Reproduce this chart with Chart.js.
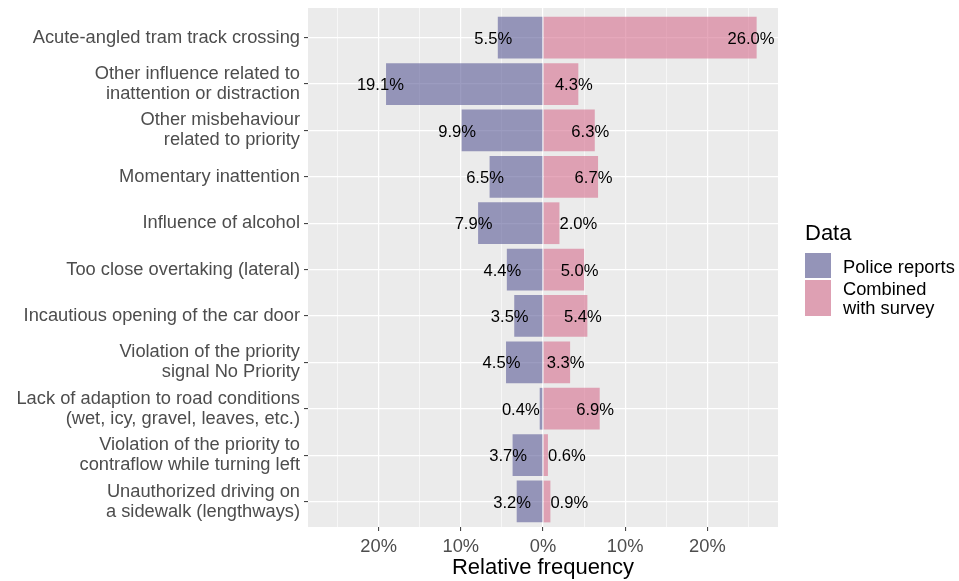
<!DOCTYPE html>
<html>
<head>
<meta charset="utf-8">
<script src="https://cdn.jsdelivr.net/npm/chart.js@4"></script>
<style>
html,body{margin:0;padding:0;background:#fff;}
#wrap{width:959px;height:581px;}
</style>
</head>
<body>
<div id="wrap"><canvas id="c" width="959" height="581"></canvas></div>
<script>
const categories = [
  'Acute-angled tram track crossing',
  ['Other influence related to', 'inattention or distraction'],
  ['Other misbehaviour', 'related to priority'],
  'Momentary inattention',
  'Influence of alcohol',
  'Too close overtaking (lateral)',
  'Incautious opening of the car door',
  ['Violation of the priority', 'signal No Priority'],
  ['Lack of adaption to road conditions', '(wet, icy, gravel, leaves, etc.)'],
  ['Violation of the priority to', 'contraflow while turning left'],
  ['Unauthorized driving on', 'a sidewalk (lengthways)']
];
const policeReports = [5.5, 19.1, 9.9, 6.5, 7.9, 4.4, 3.5, 4.5, 0.4, 3.7, 3.2];
const combinedSurvey = [26.0, 4.3, 6.3, 6.7, 2.0, 5.0, 5.4, 3.3, 6.9, 0.6, 0.9];
const seriesNames = ['Police reports', ['Combined', 'with survey']];
const legendTitle = 'Data';
const xTitle = 'Relative frequency';

const FONT = "'Liberation Sans', Arial, sans-serif";
const policeFill = 'rgba(90,90,150,0.6)';
const combinedFill = 'rgba(213,110,142,0.6)';
const policeKey = '#9494B8';
const combinedKey = '#DEA0B3';

const bgPlugin = {
  id: 'panelBg',
  beforeDraw(chart) {
    const {ctx, chartArea: a} = chart;
    ctx.save();
    ctx.fillStyle = '#EBEBEB';
    ctx.fillRect(a.left, a.top, a.right - a.left, a.bottom - a.top);
    ctx.restore();
  }
};

const labelPlugin = {
  id: 'barLabels',
  afterDatasetsDraw(chart) {
    const {ctx} = chart;
    ctx.save();
    ctx.font = '16.6px ' + FONT;
    ctx.fillStyle = '#000';
    ctx.textAlign = 'left';
    ctx.textBaseline = 'middle';
    chart.data.datasets.forEach((ds, di) => {
      const meta = chart.getDatasetMeta(di);
      meta.data.forEach((el, i) => {
        const raw = ds.data[i].x;
        const txt = Math.abs(raw).toFixed(1) + '%';
        const w = ctx.measureText(txt).width;
        let left;
        if (Math.abs(raw) < 3) {
          left = raw >= 0 ? el.x : el.x - w;
        } else {
          left = el.x - 0.62 * w;
        }
        ctx.fillText(txt, left, el.y + 1.5);
      });
    });
    ctx.restore();
  }
};

const legendPlugin = {
  id: 'customLegend',
  afterDraw(chart) {
    const {ctx} = chart;
    ctx.save();
    ctx.textAlign = 'left';
    ctx.textBaseline = 'middle';
    ctx.fillStyle = '#000';
    ctx.font = '22px ' + FONT;
    ctx.fillText(legendTitle, 805, 234);
    ctx.fillStyle = policeKey;
    ctx.fillRect(805, 253, 26, 25);
    ctx.fillStyle = combinedKey;
    ctx.fillRect(805, 280, 26, 36);
    ctx.fillStyle = '#000';
    ctx.font = '18.3px ' + FONT;
    ctx.fillText(seriesNames[0], 843, 268);
    ctx.fillText(seriesNames[1][0], 843, 290);
    ctx.fillText(seriesNames[1][1], 843, 309);
    ctx.restore();
  }
};

const policeData = policeReports.map((v, i) => ({x: -v, y: i + 1}));
const combinedData = combinedSurvey.map((v, i) => ({x: v, y: i + 1}));

new Chart(document.getElementById('c'), {
  type: 'bar',
  data: {
    datasets: [
      {label: 'Police reports', data: policeData, backgroundColor: policeFill, borderWidth: 0,
       barPercentage: 0.9, categoryPercentage: 1},
      {label: 'Combined with survey', data: combinedData, backgroundColor: combinedFill, borderWidth: 0,
       barPercentage: 0.9, categoryPercentage: 1}
    ]
  },
  options: {
    indexAxis: 'y',
    responsive: false,
    devicePixelRatio: 1,
    animation: false,
    layout: {padding: {top: 8, right: 181, left: 0, bottom: 0}},
    plugins: {legend: {display: false}, tooltip: {enabled: false}},
    scales: {
      x: {
        type: 'linear',
        stacked: true,
        min: -28.6,
        max: 28.6,
        offset: false,
        border: {display: false},
        grid: {
          offset: false,
          color: '#FFFFFF',
          lineWidth: (c) => (c.tick && Math.round(c.tick.value) % 10 === 0) ? 1.2 : 0.6,
          tickColor: (c) => (c.tick && Math.round(c.tick.value) % 10 === 0) ? '#333333' : 'rgba(0,0,0,0)',
          tickLength: 4,
          tickWidth: 1
        },
        ticks: {
          stepSize: 5,
          includeBounds: false,
          autoSkip: false,
          maxRotation: 0,
          padding: 5,
          color: '#4D4D4D',
          font: {family: FONT, size: 18.3},
          callback: (v) => (Math.round(v) % 10 === 0) ? Math.abs(Math.round(v)) + '%' : ''
        },
        title: {
          display: true,
          text: xTitle,
          color: '#000',
          font: {family: FONT, size: 22},
          padding: {top: 0, bottom: 0}
        },
        afterFit: (s) => { s.height = 54; s.paddingLeft = 0; s.paddingRight = 0; }
      },
      y: {
        type: 'linear',
        stacked: true,
        reverse: true,
        min: 0.36,
        max: 11.55,
        offset: false,
        border: {display: false},
        grid: {
          offset: false,
          color: '#FFFFFF',
          lineWidth: 1.2,
          tickColor: '#333333',
          tickLength: 4,
          tickWidth: 1
        },
        ticks: {
          stepSize: 1,
          includeBounds: false,
          autoSkip: false,
          padding: 4,
          color: '#4D4D4D',
          font: {family: FONT, size: 18.3, lineHeight: 1.093},
          callback: (v) => Number.isInteger(v) && v >= 1 && v <= categories.length ? categories[v - 1] : ''
        },
        afterFit: (s) => { s.width = 308; s.paddingTop = 0; s.paddingBottom = 0; }
      }
    }
  },
  plugins: [bgPlugin, labelPlugin, legendPlugin]
});
</script>
</body>
</html>
